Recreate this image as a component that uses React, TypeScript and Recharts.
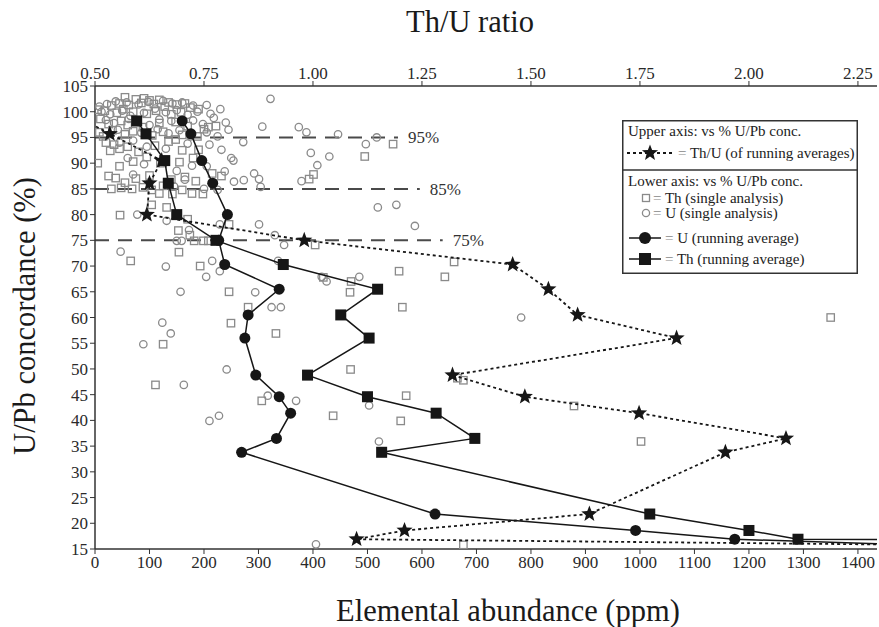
import React from 'react';
import { ScatterChart, Scatter, XAxis, YAxis, ReferenceLine, Legend } from 'recharts';

const FONT = "'Liberation Serif', 'Times New Roman', Times, serif";

// Concordance levels (%) shared by the running-average series
const concordanceLevels = [98.2, 95.7, 90.5, 86.1, 80, 75, 70.3, 65.5, 60.5, 56, 48.8, 44.6, 41.4, 36.5, 33.8, 21.8, 18.6, 16.9, 15.8];
// U running average (ppm)
const uRunningAverage = [160, 176, 196, 216, 243, 227, 238, 338, 281, 275, 295, 338, 359, 333, 269, 624, 992, 1174, 1500];
// Th running average (ppm)
const thRunningAverage = [76.5, 93.6, 128, 134.5, 150, 222, 345.5, 518.6, 451, 503, 390, 500, 626, 697, 526, 1018, 1200, 1290, 3600];
// Th/U ratio of running averages (upper axis)
const thURatio = [0.478, 0.534, 0.653, 0.625, 0.619, 0.98, 1.458, 1.54, 1.607, 1.834, 1.32, 1.486, 1.748, 2.085, 1.946, 1.634, 1.21, 1.1, 2.4];

// Single analyses: [ppm, concordance %]
const thSingle: number[][] = [
  [55, 102.8], [75, 102.4], [90, 102.6], [100, 102.2], [118, 102.3], [135, 101.8],
  [30, 101.2], [45, 101.6], [62, 101.3], [85, 101.7], [108, 101.5], [128, 101.0], [150, 101.4], [165, 101.6], [175, 100.8],
  [5, 100.4], [18, 100.2], [40, 99.8], [52, 100.5], [70, 100.0], [95, 99.6], [112, 100.2], [140, 99.5], [158, 99.9], [190, 100.5],
  [10, 98.6], [25, 97.6], [48, 98.2], [60, 97.4], [88, 97.0], [118, 97.8], [148, 98.0], [170, 97.2], [200, 96.6], [208, 97.0], [222, 97.2],
  [8, 96.0], [15, 95.2], [32, 96.4], [55, 95.6], [70, 96.2], [105, 95.4], [125, 96.1], [160, 95.5], [188, 95.2], [148, 94.6],
  [20, 94.0], [35, 93.6], [28, 92.4], [45, 92.8], [60, 93.2], [80, 92.2], [110, 93.4], [135, 94.2], [160, 92.5], [190, 92.6],
  [5, 90.0], [45, 89.4], [70, 90.3], [95, 91.2], [120, 90.0], [155, 90.2], [180, 91.0], [215, 88.0], [232, 87.5],
  [25, 87.5], [38, 87.1], [55, 86.2], [75, 87.0], [100, 87.6], [125, 85.6], [140, 86.8], [165, 87.3], [185, 86.5],
  [30, 85.0], [48, 85.2], [68, 85.0], [88, 85.3], [104, 84.8], [118, 84.1], [142, 84.0], [160, 84.8], [178, 84.1], [198, 84.0],
  [46, 79.9], [104, 81.9], [131.5, 81.4], [170, 79.1], [153, 76.9], [174, 76], [182, 74.9], [199, 74.9], [208, 74.9], [246, 78.1],
  [65.5, 71], [154, 72.7], [193, 70], [246, 65], [281, 62], [249.5, 58.9], [332, 56.9], [125, 54.8], [469, 49.9], [111, 46.9],
  [306, 43.8], [571, 44.8], [437, 40.9], [561, 39.9], [468, 64.9], [470, 67], [419, 67.8], [558, 69], [564, 62], [404, 74.1],
  [659, 70.8], [642, 67.9], [665, 48.2], [676, 47.8], [879, 42.8], [1002, 35.9], [1350, 60], [676, 15.8],
  [401, 87.8], [393, 86.9], [495, 91.3], [547, 93.7],
];

const uSingle: number[][] = [
  [8, 101.0], [22, 101.5], [38, 102.0], [58, 101.8], [80, 101.4], [98, 101.9], [125, 102.1], [142, 101.6], [160, 101.8], [180, 101.2], [205, 101.3],
  [12, 100.0], [28, 99.5], [50, 100.2], [65, 99.2], [90, 99.8], [110, 100.6], [130, 99.9], [150, 100.3], [170, 99.4], [188, 100.0], [212, 99.6], [230, 100.5],
  [20, 98.4], [35, 97.8], [62, 98.6], [78, 98.0], [100, 97.4], [118, 98.5], [140, 98.2], [180, 98.3], [198, 97.6], [218, 98.8], [240, 97.9],
  [42, 96.5], [85, 95.9], [115, 96.6], [135, 95.8], [155, 96.4], [175, 95.2], [205, 96.0], [225, 95.2], [245, 96.5],
  [45, 94.0], [70, 94.4], [95, 93.2], [130, 92.8], [170, 93.8], [210, 93.6], [232, 92.6], [250, 91.0],
  [60, 91.0], [90, 89.8], [150, 88.5], [178, 89.5], [205, 89.4], [238, 88.4], [254, 90.5],
  [70, 87.8], [100, 86.2], [145, 85.5], [165, 86.8], [200, 85.0], [225, 84.8], [255, 86.4],
  [322, 102.5], [307, 97.1], [374, 97], [388, 96], [446, 95.6], [517, 95.0], [497, 93.7], [396, 92], [430, 91.3], [408, 89.6],
  [379, 86.5], [273, 86.7], [292, 88], [301, 86.9], [304, 85.4], [272, 94.1],
  [519, 81.4], [553, 81.9], [587, 77.8], [301, 78.1], [330, 76], [347, 74.1], [336, 71], [416, 67.9], [425, 67], [485, 67.9],
  [77.6, 80], [131.5, 78.8], [172.5, 77], [150, 74.9], [159, 74.9], [229, 78.1], [47, 72.8], [130, 69.9], [215, 71], [229, 69],
  [204, 67.9], [157, 65], [294, 64.9], [324, 62], [341, 62], [123.5, 59], [139, 56.9], [88.7, 54.8], [241.6, 49.9], [163, 46.9],
  [317, 44.8], [369, 43.8], [503, 42.9], [227.5, 40.9], [210, 39.9], [521, 35.9], [405.5, 15.9], [782, 60],
];

const ppmTicks = [0, 100, 200, 300, 400, 500, 600, 700, 800, 900, 1000, 1100, 1200, 1300, 1400];
const ratioTicks = [0.5, 0.75, 1.0, 1.25, 1.5, 1.75, 2.0, 2.25];
const concTicks = [15, 20, 25, 30, 35, 40, 45, 50, 55, 60, 65, 70, 75, 80, 85, 90, 95, 100, 105];

const thresholds = [95, 85, 75];
const thresholdLabels = ['95%', '85%', '75%'];
const thresholdEnds = [556, 596, 638];

const uAvgData = concordanceLevels.map((y, i) => ({ x: uRunningAverage[i], y }));
const thAvgData = concordanceLevels.map((y, i) => ({ x: thRunningAverage[i], y }));
const ratioData = concordanceLevels.map((y, i) => ({ x: thURatio[i], y }));
const thSingleData = thSingle.map(([x, y]) => ({ x, y }));
const uSingleData = uSingle.map(([x, y]) => ({ x, y }));

const GRAY = '#8a8a8a';
const BLACK = '#161616';

const starPath = (cx: number, cy: number, R: number, r: number) => {
  const pts: string[] = [];
  for (let i = 0; i < 10; i++) {
    const a = (-90 + i * 36) * Math.PI / 180;
    const rad = i % 2 === 0 ? R : r;
    pts.push(`${(cx + rad * Math.cos(a)).toFixed(2)},${(cy + rad * Math.sin(a)).toFixed(2)}`);
  }
  return pts.join(' ');
};

const OpenSquare = (p: any) =>
  p.cx == null ? <g /> : <rect x={p.cx - 3.7} y={p.cy - 3.7} width={7.4} height={7.4} fill="none" stroke={GRAY} strokeWidth={1.3} />;
const OpenCircle = (p: any) =>
  p.cx == null ? <g /> : <circle cx={p.cx} cy={p.cy} r={3.7} fill="none" stroke={GRAY} strokeWidth={1.3} />;
const FilledSquare = (p: any) =>
  p.cx == null ? <g /> : <rect x={p.cx - 5.5} y={p.cy - 5.5} width={11} height={11} fill={BLACK} />;
const FilledCircle = (p: any) =>
  p.cx == null ? <g /> : <circle cx={p.cx} cy={p.cy} r={5.5} fill={BLACK} />;
const Star = (p: any) =>
  p.cx == null ? <g /> : <polygon points={starPath(p.cx, p.cy, 8.5, 3.6)} fill={BLACK} />;

const txt = { fontFamily: FONT };

const LegendBox = () => (
  <svg width={236} height={154} style={{ display: 'block', fontFamily: FONT }}>
    <rect x={0.75} y={0.75} width={234.5} height={152.5} fill="#fff" stroke="#333" strokeWidth={1.5} />
    <text x={6} y={16} fontSize={15} fill="#222" style={txt}>Upper axis: vs % U/Pb conc.</text>
    <line x1={5} y1={33} x2={52} y2={33} stroke={BLACK} strokeWidth={1.8} strokeDasharray="3 3" />
    <polygon points={starPath(28, 33, 8.5, 3.6)} fill={BLACK} />
    <text x={56} y={38} fontSize={15} fill="#222" style={txt}><tspan fill="#888">=</tspan> Th/U (of running averages)</text>
    <line x1={0} y1={50} x2={236} y2={50} stroke="#333" strokeWidth={1.5} />
    <text x={6} y={66} fontSize={15} fill="#222" style={txt}>Lower axis: vs % U/Pb conc.</text>
    <rect x={20.5} y={74.5} width={7} height={7} fill="none" stroke={GRAY} strokeWidth={1.3} />
    <text x={31} y={83} fontSize={15} fill="#222" style={txt}><tspan fill="#888">=</tspan> Th (single analysis)</text>
    <circle cx={24} cy={93} r={3.6} fill="none" stroke={GRAY} strokeWidth={1.3} />
    <text x={31} y={98} fontSize={15} fill="#222" style={txt}><tspan fill="#888">=</tspan> U  (single analysis)</text>
    <line x1={7} y1={118} x2={39} y2={118} stroke={BLACK} strokeWidth={1.5} />
    <circle cx={23} cy={118} r={6} fill={BLACK} />
    <text x={43} y={123} fontSize={15} fill="#222" style={txt}><tspan fill="#888">=</tspan> U  (running average)</text>
    <line x1={7} y1={139} x2={39} y2={139} stroke={BLACK} strokeWidth={1.5} />
    <rect x={17} y={133} width={12} height={12} fill={BLACK} />
    <text x={43} y={144} fontSize={15} fill="#222" style={txt}><tspan fill="#888">=</tspan> Th (running average)</text>
  </svg>
);

const tickStyle = { fill: '#2a2a2a', fontSize: 17, fontFamily: FONT };
const axisLine = { stroke: '#333', strokeWidth: 1.5 };

export default function App() {
  return (
    <div style={{ width: 879, height: 627, position: 'relative', background: '#fff', fontFamily: FONT }}>
      <style>{'body{margin:0;background:#fff}'}</style>
      <ScatterChart width={879} height={627} margin={{ top: 56, right: 2, bottom: 48, left: 35 }} style={{ fontFamily: FONT }}>
        <XAxis
          xAxisId="ppm"
          type="number"
          dataKey="x"
          domain={[0, 1435]}
          allowDataOverflow
          ticks={ppmTicks}
          height={30}
          tick={tickStyle}
          tickLine={{ stroke: '#333' }}
          tickSize={5}
          axisLine={axisLine}
          label={() => (
            <text x={508} y={621} textAnchor="middle" fontSize={30.5} fill="#1a1a1a" style={txt}>
              Elemental abundance (ppm)
            </text>
          )}
        />
        <XAxis
          xAxisId="ratio"
          orientation="top"
          type="number"
          dataKey="x"
          domain={[0.5, 2.29375]}
          allowDataOverflow
          ticks={ratioTicks}
          tickFormatter={(v: number) => v.toFixed(2)}
          height={30}
          tick={tickStyle}
          tickLine={{ stroke: '#333' }}
          tickSize={5}
          axisLine={axisLine}
          label={() => (
            <text x={470} y={32} textAnchor="middle" fontSize={30.5} fill="#1a1a1a" style={txt}>
              Th/U ratio
            </text>
          )}
        />
        <YAxis
          yAxisId="left"
          type="number"
          dataKey="y"
          domain={[15, 105]}
          allowDataOverflow
          ticks={concTicks}
          width={60}
          tick={tickStyle}
          tickLine={{ stroke: '#333' }}
          tickSize={5}
          axisLine={axisLine}
          label={() => (
            <text x={35} y={316} textAnchor="middle" fontSize={30.5} fill="#1a1a1a" style={txt} transform="rotate(-90 35 316)">
              U/Pb concordance (%)
            </text>
          )}
        />
        <YAxis yAxisId="right" orientation="right" type="number" domain={[15, 105]} width={0} tick={false} tickLine={false} axisLine={axisLine} />

        {thresholds.map((t, i) => (
          <ReferenceLine
            key={t}
            xAxisId="ppm"
            yAxisId="left"
            segment={[{ x: 0, y: t }, { x: thresholdEnds[i], y: t }]}
            stroke="#4a4a4a"
            strokeWidth={2}
            strokeDasharray="14 9"
            ifOverflow="visible"
            label={{ value: thresholdLabels[i], position: 'right', offset: 10, fill: '#333', fontSize: 17, fontFamily: FONT }}
          />
        ))}

        <Scatter xAxisId="ppm" yAxisId="left" data={uSingleData} shape={OpenCircle} isAnimationActive={false} />
        <Scatter xAxisId="ppm" yAxisId="left" data={thSingleData} shape={OpenSquare} isAnimationActive={false} />
        <Scatter
          xAxisId="ratio"
          yAxisId="left"
          data={ratioData}
          shape={Star}
          line={{ stroke: BLACK, strokeWidth: 1.8, strokeDasharray: '3 3' }}
          lineType="joint"
          isAnimationActive={false}
        />
        <Scatter
          xAxisId="ppm"
          yAxisId="left"
          data={uAvgData}
          shape={FilledCircle}
          line={{ stroke: BLACK, strokeWidth: 1.5 }}
          lineType="joint"
          isAnimationActive={false}
        />
        <Scatter
          xAxisId="ppm"
          yAxisId="left"
          data={thAvgData}
          shape={FilledSquare}
          line={{ stroke: BLACK, strokeWidth: 1.5 }}
          lineType="joint"
          isAnimationActive={false}
        />
        <Legend
          layout="horizontal"
          verticalAlign="middle"
          align="center"
          wrapperStyle={{ left: 622, top: 120, width: 236, height: 154 }}
          content={() => <LegendBox />}
        />
      </ScatterChart>
    </div>
  );
}
